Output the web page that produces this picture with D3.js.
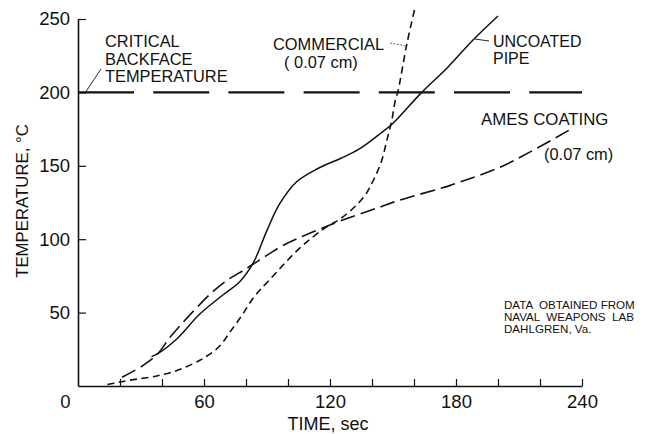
<!DOCTYPE html>
<html><head><meta charset="utf-8">
<script src="https://cdn.jsdelivr.net/npm/d3@7"></script>
<style>
html,body{margin:0;padding:0;background:#fff;}
svg text{font-family:"Liberation Sans",Arial,sans-serif;fill:#111;}
</style></head>
<body>
<svg id="chart" width="646" height="434"></svg>
<script>
// ---- data ----
const xTickValues = [0, 60, 120, 180, 240];
const xMinorTicks = [20, 40, 60, 80, 100, 120, 140, 160, 180, 200, 220, 240];
const yTickValues = [50, 100, 150, 200, 250];
const criticalTemp = 200;

const commercialTime = [14, 19, 25, 38, 48, 58, 64, 68, 72, 78, 84, 91, 106, 118, 126, 136, 140.6, 144.6, 147, 149.4, 151, 152.4, 156.6, 160.5];
const commercialTemp = [1, 2.5, 4, 7, 11, 17.5, 23, 28, 36, 48, 61, 72, 94.5, 108, 115, 128.6, 140, 153.5, 167, 180.7, 194, 201, 233, 258];

const uncoatedTime = [35, 38, 47, 58, 69, 77, 83.5, 90, 96, 104, 114, 125, 134, 144, 150, 163, 176, 188, 200];
const uncoatedTemp = [20, 22, 32, 49, 62, 71, 84, 106, 124, 139, 148, 155, 161.5, 172, 179, 199, 217, 235.5, 252];

const amesTime = [21, 31, 38, 44, 53, 64, 72, 79, 84, 91, 98, 112, 126, 144, 153, 177, 184, 201, 216, 236];
const amesTemp = [6, 14, 22, 33.5, 48, 64, 73, 79, 83.5, 90, 96, 105, 113, 122, 126.5, 136.5, 140, 149, 160, 176];

// ---- layout ----
const svg = d3.select("#chart");
const x = d3.scaleLinear().domain([0, 240]).range([78, 582]);
const y = d3.scaleLinear().domain([0, 250]).range([386, 19]);
const ink = "#111";

// x axis: minor ticks pointing up
const gx = svg.append("g").attr("transform", `translate(0,${y(0)})`)
  .call(d3.axisBottom(x).tickValues(xMinorTicks).tickSizeInner(-7).tickSizeOuter(0).tickFormat(""));
gx.select(".domain").attr("stroke", ink).attr("stroke-width", 1.6);
gx.selectAll(".tick line").attr("stroke", ink).attr("stroke-width", 1.2);

// x labels
const gxl = svg.append("g").attr("transform", `translate(0,${y(0)})`)
  .call(d3.axisBottom(x).tickValues(xTickValues).tickSize(0).tickPadding(9).tickFormat(d3.format("d")));
gxl.select(".domain").remove();
gxl.selectAll("text").attr("font-size", 18.5).attr("font-family", "Liberation Sans, Arial, sans-serif").attr("fill", ink)
  .attr("dx", d => d === 0 ? -13 : 0);

// y axis
const gy = svg.append("g").attr("transform", `translate(${x(0)},0)`)
  .call(d3.axisLeft(y).tickValues(yTickValues).tickSizeInner(-8).tickSizeOuter(0).tickPadding(8));
gy.select(".domain").attr("stroke", ink).attr("stroke-width", 1.6);
gy.selectAll(".tick line").attr("stroke", ink).attr("stroke-width", 1.2);
gy.selectAll("text").attr("font-size", 18.5).attr("font-family", "Liberation Sans, Arial, sans-serif").attr("fill", ink);

// axis titles
svg.append("text").attr("x", 328).attr("y", 430).attr("text-anchor", "middle")
  .attr("font-size", 18).text("TIME, sec");
svg.append("text").attr("transform", "translate(28,201) rotate(-90)").attr("text-anchor", "middle")
  .attr("font-size", 16.8).text("TEMPERATURE, °C");

// critical line
svg.append("line")
  .attr("x1", x(0)).attr("x2", x(240)).attr("y1", y(criticalTemp)).attr("y2", y(criticalTemp))
  .attr("stroke", ink).attr("stroke-width", 2.2).attr("stroke-dasharray", "56,19.2");

// curves
const line = d3.line().x(d => x(d[0])).y(d => y(d[1])).curve(d3.curveCatmullRom.alpha(0.5));
function draw(ts, vs, dash, w) {
  svg.append("path").datum(ts.map((t, i) => [t, vs[i]]))
    .attr("d", line).attr("fill", "none").attr("stroke", ink)
    .attr("stroke-width", w).attr("stroke-dasharray", dash);
}
draw(commercialTime, commercialTemp, "7,4.5", 1.6);
draw(uncoatedTime, uncoatedTemp, null, 1.5);
draw(amesTime, amesTemp, "15,6", 1.6);

// annotations
function label(lines, x0, y0, size, dy) {
  const t = svg.append("text").attr("font-size", size);
  lines.forEach((s, i) => t.append("tspan").attr("x", x0).attr("y", y0 + i * dy).text(s));
}
label(["CRITICAL", "BACKFACE", "TEMPERATURE"], 105, 47, 16.4, 17.5);
svg.append("line").attr("x1", 85).attr("y1", 93).attr("x2", 101).attr("y2", 69).attr("stroke", ink).attr("stroke-width", 0.9);

label(["COMMERCIAL"], 273, 50, 16.4, 0);
label(["( 0.07  cm)"], 284, 68, 16.4, 0);
svg.append("line").attr("x1", 390).attr("y1", 43).attr("x2", 406).attr("y2", 46)
  .attr("stroke", "#555").attr("stroke-width", 0.9).attr("stroke-dasharray", "2,1.5");

label(["UNCOATED", "PIPE"], 493, 47, 16, 17);
svg.append("line").attr("x1", 475).attr("y1", 39).attr("x2", 489).attr("y2", 41).attr("stroke", ink).attr("stroke-width", 0.9);

label(["AMES COATING"], 481, 125, 16.8, 0);
label(["(0.07 cm)"], 544, 160, 16.4, 0);

const src = svg.append("text").attr("font-size", 11.6);
["DATA  OBTAINED FROM", "NAVAL  WEAPONS  LAB", "DAHLGREN, Va."].forEach((s, i) =>
  src.append("tspan").attr("x", 504).attr("y", 309 + i * 12).attr("xml:space", "preserve").style("white-space", "pre").text(s));
</script>
</body></html>
